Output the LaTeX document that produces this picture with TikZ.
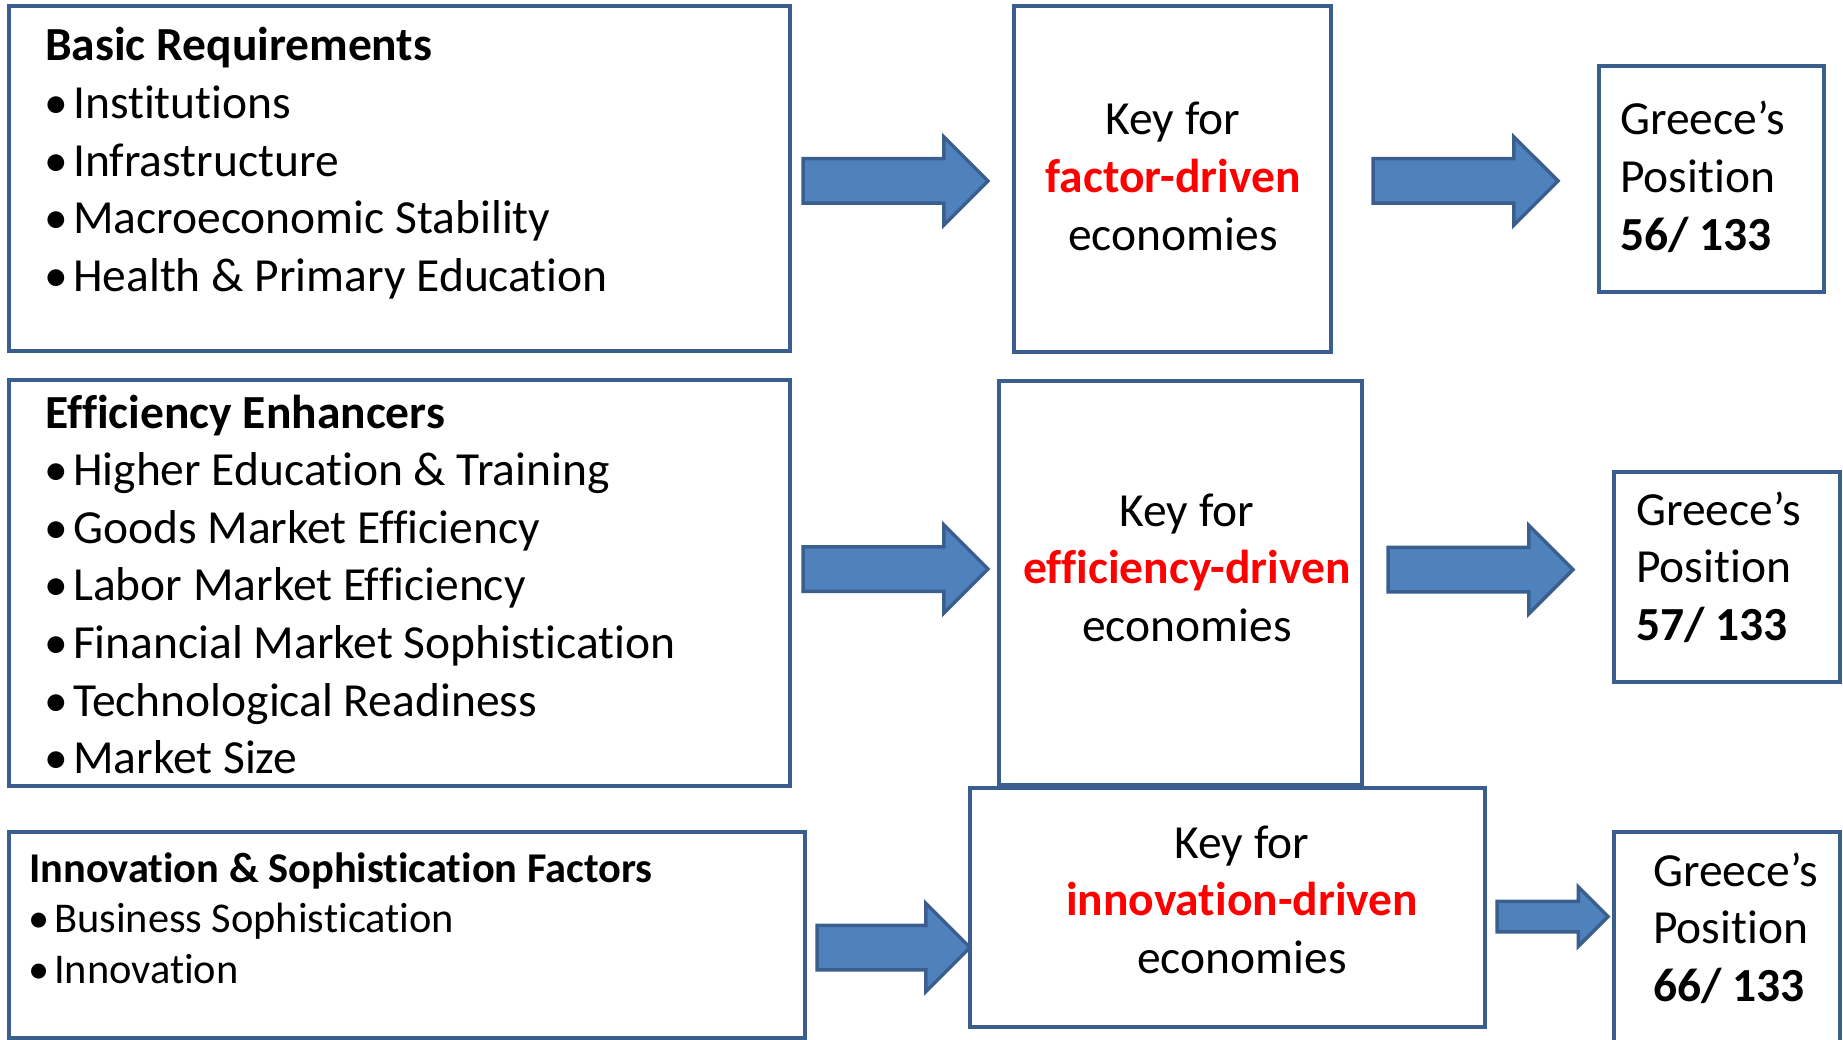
\documentclass[tikz,border=0pt]{standalone}
\usepackage{fontspec}
\setmainfont{Carlito}[Ligatures={NoCommon}]
\usetikzlibrary{shapes.arrows}
\definecolor{boxblue}{RGB}{58,95,142}
\definecolor{arrowblue}{RGB}{79,129,189}
\tikzset{
  panel/.style={draw=boxblue, line width=4pt, fill=white, outer sep=0pt, inner sep=0pt, anchor=north west},
  item/.style={anchor=base west, inner sep=0pt, font=\fontsize{47.5}{57.6}\selectfont},
  head/.style={item, font=\fontsize{47.5}{57.6}\selectfont\bfseries},
  smallitem/.style={item, font=\fontsize{42.4}{50}\selectfont},
  smallhead/.style={item, font=\fontsize{42.4}{50}\selectfont\bfseries},
  keytxt/.style={anchor=base, inner sep=0pt, font=\fontsize{47.5}{57.6}\selectfont},
  redtxt/.style={keytxt, text=red, font=\fontsize{47.5}{57.6}\selectfont\bfseries},
  bigarrow/.style={single arrow, draw=boxblue, fill=arrowblue, line width=3.5pt, text height=0pt, text depth=0pt,
    inner xsep=0pt, inner ysep=20.5pt, single arrow head extend=22pt, anchor=tail, outer sep=0pt}
}
\newcommand{\bul}[2][28pt]{\makebox[#1][l]{\hspace{-1pt}\textbullet}#2}

\begin{document}
\begin{tikzpicture}[x=1pt, y=-1pt]
    \useasboundingbox (0,0) rectangle (1843,1040);
    \clip (0,0) rectangle (1843,1040);
    \node[panel, minimum width=781, minimum height=345] (basic) at (9,6) {};
    \node[panel, minimum width=317, minimum height=346] (keyf) at (1014,6) {};
    \node[panel, minimum width=225, minimum height=226] (posf) at (1599,66) {};
    \node[panel, minimum width=781, minimum height=406] (effic) at (9,380) {};
    \node[panel, minimum width=363, minimum height=404] (keye) at (999,381) {};
    \node[panel, minimum width=226, minimum height=210] (pose) at (1614,472) {};
    \node[panel, minimum width=796, minimum height=206] (innov) at (9,832) {};
    \node[panel, minimum width=515, minimum height=239] (keyi) at (970,788) {};
    \node[panel, minimum width=226, minimum height=240] (posi) at (1614,832) {};
    \node[head] (basichead) at (45,61) {Basic Requirements};
    \foreach \txt [count=\i] in {Institutions, Infrastructure, Macroeconomic Stability, Health \& Primary Education}
        \node[item] (basic\i) at (45,61+57.6*\i) {\bul{\txt}};
    \node[head] (effichead) at (45,428) {Efficiency Enhancers};
    \foreach \txt [count=\i] in {Higher Education \& Training, Goods Market Efficiency, Labor Market Efficiency,
        Financial Market Sophistication, Technological Readiness, Market Size}
        \node[item] (effic\i) at (45,428+57.6*\i) {\bul{\txt}};
    \node[smallhead] (innovhead) at (29,882) {Innovation \& Sophistication Factors};
    \foreach \txt [count=\i] in {Business Sophistication, Innovation}
        \node[smallitem] (innov\i) at (29,882+50.5*\i) {\bul[25pt]{\txt}};
    \foreach \x/\y/\w [count=\i] in {1173/135/factor, 1187/526/efficiency, 1242/858/innovation} {
        \node[keytxt] (keya\i) at (\x,\y) {Key for};
        \node[redtxt] (keyb\i) at (\x,\y+57.6) {\w-driven};
        \node[keytxt] (keyc\i) at (\x,\y+115.2) {economies};
    }
    \foreach \x/\y/\n [count=\i] in {1620/135/56, 1636/525/57, 1653/886/66} {
        \node[item] (gra\i) at (\x,\y) {Greece’s};
        \node[item] (grb\i) at (\x,\y+57.6) {Position};
        \node[head] (grc\i) at (\x,\y+115.2) {\n/ 133};
    }
    \node[bigarrow, minimum height=185] (arr1) at (803,181) {};
    \node[bigarrow, minimum height=185] (arr2) at (1373,181) {};
    \node[bigarrow, minimum height=185] (arr3) at (803,569) {};
    \node[bigarrow, minimum height=185] (arr4) at (1388,569.5) {};
    \node[bigarrow, minimum height=153] (arr5) at (817,947.5) {};
    \node[bigarrow, minimum height=111, inner ysep=13.5pt, single arrow head extend=14.5pt] (arr6) at (1497,916.5) {};
\end{tikzpicture}
\end{document}
